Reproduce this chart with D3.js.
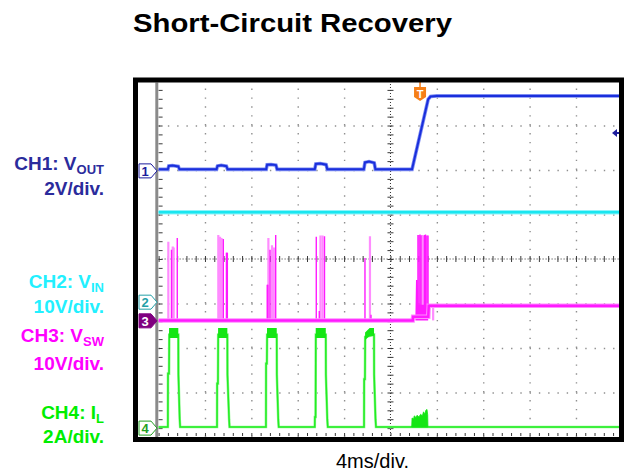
<!DOCTYPE html>
<meta charset="utf-8">
<style>
body {
  margin: 0;
  background: #fff;
  font-family: 'Liberation Sans', Arial, sans-serif;
}
svg { display: block; }
.grid .domain, .ticks .domain { display: none; }
.grid line { stroke: #8f8f8f; stroke-width: 1.4; }
.ticks line { stroke: #3a3a3a; stroke-width: 1; }
</style>
<svg width="624" height="472"></svg>
<script src="https://d3js.org/d3.v7.min.js"></script>
<script>
// labels
var title = "Short-Circuit Recovery";
var timeLabel = "4ms/div.";
var chMain = ["CH1: V", "CH2: V", "CH3: V", "CH4: I"];
var chSub = ["OUT", "IN", "SW", "L"];
var chScale = ["2V/div.", "10V/div.", "10V/div.", "2A/div."];

// scope settings: 4 ms/div over 10 div (ms from left edge), units per div and ground marker offset (div)
var timeTicks = [0, 4, 8, 12, 16, 20, 24, 28, 32, 36, 40];
var divTicks = [-4, -3, -2, -1, 0, 1, 2, 3, 4];
var perDiv = [2, 10, 10, 2];
var offsetDiv = [1.98, -0.97, -1.39, -3.80];
var triggerTime = 22.55;
var triggerLevel = 1.7; // CH1, volts

// CH1 VOUT [ms, V]
var ch1 = [[0, 0.07], [0.80, 0.07], [0.88, 0.22], [1.20, 0.24], [1.70, 0.20], [1.80, 0.07],
  [5.00, 0.07], [5.08, 0.22], [5.40, 0.25], [5.85, 0.21], [5.95, 0.07],
  [9.28, 0.07], [9.36, 0.28], [9.70, 0.29], [10.12, 0.26], [10.22, 0.07],
  [13.47, 0.07], [13.56, 0.31], [13.95, 0.33], [14.45, 0.28], [14.55, 0.07],
  [17.70, 0.07], [17.80, 0.38], [18.15, 0.42], [18.60, 0.36], [18.70, 0.07],
  [21.86, 0.07], [23.25, 3.22], [23.45, 3.34], [24.0, 3.37], [40, 3.37]];

// CH2 VIN [ms, V]
var ch2 = [[0, 20.2], [40, 20.2]];

// CH3 VSW trace [ms, V]
var ch3 = [[0, 0.1], [21.92, 0.1], [21.95, 0.92], [23.26, 0.92], [23.30, 3.37], [40, 3.37]];
// CH3 switching spikes [ms, low V, high V]
var ch3Spikes = [[1.11, 0.1, 16.0], [1.61, 0.1, 18.6],
  [5.58, 0.1, 18.4], [5.85, 0.1, 15.3], [5.89, 0.1, 15.3], [5.93, 0.1, 15.3],
  [9.37, 0.1, 8.1], [9.42, 0.1, 8.1], [9.61, 0.1, 16.0], [10.10, 0.1, 19.3],
  [13.60, 0.1, 18.9], [13.86, 0.1, 2.2], [14.31, 0.1, 19.0],
  [17.80, 0.1, 14.1], [18.32, 0.1, 1.35],
  [22.37, 0.9, 19.3], [22.46, 0.9, 19.3], [22.55, 0.9, 19.4], [22.63, 0.9, 19.2],
  [22.93, 3.3, 19.3], [23.02, 3.3, 19.4], [23.15, 3.3, 19.2], [23.24, 3.3, 19.2]];
var ch3Faint = [[0.84, 0.1, 17.8], [1.22, 0.1, 16.7], [1.30, 0.1, 16.5],
  [5.15, 0.1, 19.3], [5.30, 0.1, 18.9], [5.43, 0.1, 18.6],
  [9.47, 0.1, 18.6], [9.78, 0.1, 17.0], [9.94, 0.1, 16.5],
  [13.96, 0.1, 19.2], [14.14, 0.1, 19.2],
  [18.23, 0.1, 19.0],
  [22.72, 0.9, 19.3], [22.81, 0.9, 19.2], [23.09, 3.3, 19.1],
  [23.68, 0.1, 3.37]];
// CH3 burst during restart [ms, low V, high V]
var ch3Burst = [[22.15, 0.1, 0.95], [22.20, 0.1, 9.2], [22.35, 0.1, 9.2], [22.40, 0.1, 3.6],
  [23.25, 0.1, 3.6], [23.30, 3.2, 3.6]];

// CH4 IL [ms, A]
var ch4 = [[0, 0.05],
  [0.80, 0.05], [0.81, 2.45], [0.90, 2.45], [0.92, 4.2], [1.70, 4.2], [1.71, 2.4], [1.82, 0.4], [1.86, 0.05],
  [5.04, 0.05], [5.05, 2.0], [5.12, 2.0], [5.14, 4.2], [5.93, 4.2], [5.94, 2.4], [6.08, 0.4], [6.12, 0.05],
  [9.26, 0.05], [9.27, 2.9], [9.34, 2.9], [9.36, 4.2], [10.19, 4.2], [10.20, 2.4], [10.32, 0.4], [10.36, 0.05],
  [13.47, 0.05], [13.48, 0.5], [13.54, 0.5], [13.56, 4.2], [14.42, 4.2], [14.43, 2.4], [14.55, 0.4], [14.59, 0.05],
  [17.72, 0.05], [17.73, 2.2], [17.80, 2.2], [17.82, 4.1], [18.58, 4.2], [18.59, 2.4], [18.71, 0.4], [18.75, 0.05],
  [40, 0.05]];
// CH4 ripple band on the current pulses [ms, low A, high A]
var ch4Bands = [
  [[0.90, 4.05, 4.50], [1.70, 4.05, 4.50]],
  [[5.13, 4.05, 4.50], [5.93, 4.05, 4.50]],
  [[9.35, 4.05, 4.50], [10.19, 4.05, 4.50]],
  [[13.55, 4.05, 4.50], [14.42, 4.05, 4.50]],
  [[17.81, 3.95, 4.30], [18.20, 4.15, 4.50], [18.58, 4.15, 4.50]]];
// CH4 small current during restart [ms, low A, high A]
var ch4Bump = [[21.83, 0.05, 0.05], [21.86, 0.05, 0.45], [22.00, 0.05, 0.42], [22.05, 0.05, 0.55],
  [22.20, 0.05, 0.48], [22.30, 0.05, 0.58], [22.45, 0.05, 0.50], [22.60, 0.05, 0.62],
  [22.75, 0.05, 0.55], [22.85, 0.05, 0.73], [22.95, 0.05, 0.62], [23.05, 0.05, 0.80],
  [23.15, 0.05, 0.84], [23.21, 0.05, 0.60], [23.23, 0.05, 0.05]];

var traceColor = ["#1a2fdc", "#1ae6f0", "#ff1aff", "#22ee22"];
var haloColor = ["#7d8cf2", "#8ff4fa", "#ff8cff", "#90f590"];
var labelColor = ["#2b2b9c", "#22f0ff", "#ff00ff", "#00ee00"];

var svg = d3.select("svg"),
    gLeft = 158.6, gRight = 622.35, gTop = 81, gBottom = 437;

var x = d3.scaleLinear().domain([0, 40]).range([gLeft, gRight]);
var yDiv = d3.scaleLinear().domain([-4, 4]).range([gBottom, gTop]);
var yCh = perDiv.map(function(p, i) {
  return d3.scaleLinear()
    .domain([(-4 - offsetDiv[i]) * p, (4 - offsetDiv[i]) * p])
    .range([gBottom, gTop]);
});

svg.append("defs").append("clipPath").attr("id", "screen")
  .append("rect").attr("x", 138).attr("y", 82.5).attr("width", 481).attr("height", 354.5);

var screen = svg.append("g").attr("clip-path", "url(#screen)");

// graticule
var vgrid = screen.append("g").attr("class", "grid")
    .attr("transform", "translate(0," + gBottom + ")")
    .call(d3.axisBottom(x).tickValues(timeTicks.filter(function(d) { return d > 0 && d != 20; }))
      .tickSize(-(gBottom - gTop)).tickFormat(""));
vgrid.selectAll("line").attr("stroke-dasharray", "1.4 " + (yDiv(0) - yDiv(0.2) - 1.4));

var hgrid = screen.append("g").attr("class", "grid")
    .attr("transform", "translate(" + gLeft + ",0)")
    .call(d3.axisLeft(yDiv).tickValues(divTicks.filter(function(d) { return d != 0 && d != -4; }))
      .tickSize(-(gRight - gLeft)).tickFormat(""));
hgrid.selectAll("line").attr("stroke-dasharray", "1.4 " + (x(0.8) - x(0) - 1.4));

var minorY = d3.range(-4, 4.001, 0.2), minorX = d3.range(0, 40.001, 0.8);

// centre lines with minor ticks
screen.append("line")
    .attr("x1", x(20)).attr("x2", x(20)).attr("y1", gTop).attr("y2", gBottom)
    .attr("stroke", "#333").attr("stroke-dasharray", "1 2");
screen.append("line")
    .attr("x1", gLeft).attr("x2", gRight).attr("y1", yDiv(0)).attr("y2", yDiv(0))
    .attr("stroke", "#333").attr("stroke-dasharray", "1 2");
[d3.axisLeft, d3.axisRight].forEach(function(ax) {
  screen.append("g").attr("class", "ticks")
      .attr("transform", "translate(" + x(20) + ",0)")
      .call(ax(yDiv).tickValues(minorY).tickSize(3).tickFormat(""));
});
[d3.axisTop, d3.axisBottom].forEach(function(ax) {
  screen.append("g").attr("class", "ticks")
      .attr("transform", "translate(0," + yDiv(0) + ")")
      .call(ax(x).tickValues(minorX).tickSize(3).tickFormat(""));
});

// left edge and bottom edge
screen.append("line")
    .attr("x1", gLeft - 1.8).attr("x2", gLeft - 1.8).attr("y1", gTop).attr("y2", gBottom)
    .attr("stroke", "#8a8a8a").attr("stroke-width", 3);
screen.append("g").attr("class", "ticks")
    .attr("transform", "translate(" + gLeft + ",0)")
    .call(d3.axisRight(yDiv).tickValues(minorY).tickSize(4).tickFormat(""));
screen.append("g").attr("class", "ticks")
    .attr("transform", "translate(0," + (gBottom - 1) + ")")
    .call(d3.axisTop(x).tickValues(minorX).tickSize(3).tickFormat(""));

// traces
function line(i) {
  return d3.line().x(function(d) { return x(d[0]); }).y(function(d) { return yCh[i](d[1]); });
}
function band(i) {
  return d3.area().x(function(d) { return x(d[0]); })
    .y0(function(d) { return yCh[i](d[1]); }).y1(function(d) { return yCh[i](d[2]); });
}

var traces = screen.append("g").attr("fill", "none");

// CH2
traces.append("path").attr("d", line(1)(ch2)).attr("stroke", haloColor[1]).attr("stroke-width", 4.5);
traces.append("path").attr("d", line(1)(ch2)).attr("stroke", traceColor[1]).attr("stroke-width", 2.5);

// CH4
traces.append("path").attr("d", line(3)(ch4)).attr("stroke", haloColor[3]).attr("stroke-width", 2.6);
traces.append("path").attr("d", line(3)(ch4)).attr("stroke", traceColor[3]).attr("stroke-width", 1.5);
traces.selectAll(".band4").data(ch4Bands).enter().append("path")
    .attr("d", band(3)).attr("fill", "#14e614");
traces.append("path").attr("d", band(3)(ch4Bump)).attr("fill", "#14e614")
    .attr("stroke", "#14e614").attr("stroke-width", 0.8);

// CH3
traces.selectAll(".faint3").data(ch3Faint).enter().append("line")
    .attr("x1", function(d) { return x(d[0]); }).attr("x2", function(d) { return x(d[0]); })
    .attr("y1", function(d) { return yCh[2](d[1]); }).attr("y2", function(d) { return yCh[2](d[2]); })
    .attr("stroke", "#ff8cff").attr("stroke-width", 2.2);
traces.selectAll(".spike3").data(ch3Spikes).enter().append("line")
    .attr("x1", function(d) { return x(d[0]); }).attr("x2", function(d) { return x(d[0]); })
    .attr("y1", function(d) { return yCh[2](d[1]); }).attr("y2", function(d) { return yCh[2](d[2]); })
    .attr("stroke", traceColor[2]).attr("stroke-width", 1.4);
traces.append("path").attr("d", band(2)(ch3Burst)).attr("fill", traceColor[2]);
traces.append("path").attr("d", line(2)(ch3)).attr("stroke", haloColor[2]).attr("stroke-width", 4.5);
traces.append("path").attr("d", line(2)(ch3)).attr("stroke", traceColor[2]).attr("stroke-width", 2.5);

// CH1
traces.append("path").attr("d", line(0)(ch1)).attr("stroke", haloColor[0]).attr("stroke-width", 3.6);
traces.append("path").attr("d", line(0)(ch1)).attr("stroke", traceColor[0]).attr("stroke-width", 2);

// channel ground markers
var markerFill = ["#fff", "#fff", "#800080", "#fff"];
var markerLine = ["#1c1c9c", "#23a0a8", "#800080", "#23a023"];
var markerText = ["#1c1c9c", "#23a0a8", "#fff", "#23a023"];
var markers = svg.append("g").selectAll("g").data(perDiv).enter().append("g")
    .attr("transform", function(d, i) { return "translate(0," + yCh[i](0) + ")"; });
markers.append("path")
    .attr("d", "M139,-7H151L157,0L151,7H139Z")
    .attr("fill", function(d, i) { return markerFill[i]; })
    .attr("stroke", function(d, i) { return markerLine[i]; })
    .attr("stroke-width", 1);
markers.append("text")
    .attr("x", 145).attr("y", 5)
    .attr("text-anchor", "middle")
    .attr("font-size", 13).attr("font-weight", "bold")
    .attr("fill", function(d, i) { return markerText[i]; })
    .text(function(d, i) { return i + 1; });

// trigger position and level
var tx = x(triggerTime);
svg.append("line").attr("x1", tx).attr("x2", tx).attr("y1", 82).attr("y2", 88)
    .attr("stroke", "#f07818").attr("stroke-width", 1.5);
svg.append("path")
    .attr("d", "M" + (tx - 6) + ",87H" + (tx + 6) + "V97L" + tx + ",101L" + (tx - 6) + ",97Z")
    .attr("fill", "#f57f17");
svg.append("text").attr("x", tx).attr("y", 97.5).attr("text-anchor", "middle")
    .attr("font-size", 11).attr("font-weight", "bold").attr("fill", "#fff").text("T");
var ty = yCh[0](triggerLevel);
svg.append("path")
    .attr("d", "M612," + ty + "L617," + (ty - 4) + "V" + (ty - 1) + "H619V" + (ty + 1) + "H617V" + (ty + 4) + "Z")
    .attr("fill", "#1c1c9c");

// frame
svg.append("rect")
    .attr("x", 135.5).attr("y", 80).attr("width", 486).attr("height", 359.5)
    .attr("fill", "none").attr("stroke", "#000").attr("stroke-width", 5);

// titles and channel labels
svg.append("text")
    .attr("x", 133).attr("y", 32)
    .attr("font-size", 25).attr("font-weight", "bold")
    .attr("textLength", 319).attr("lengthAdjust", "spacingAndGlyphs")
    .text(title);

svg.append("text")
    .attr("x", 372.5).attr("y", 468)
    .attr("text-anchor", "middle").attr("font-size", 20)
    .text(timeLabel);

var labelY = [170, 288, 342, 419];
var scaleY = [195, 313, 370, 443];
var labels = svg.append("g")
    .attr("font-weight", "bold").attr("text-anchor", "end").attr("font-size", 19)
  .selectAll("g").data(chMain).enter().append("g")
    .attr("fill", function(d, i) { return labelColor[i]; });
var head = labels.append("text")
    .attr("x", 104).attr("y", function(d, i) { return labelY[i]; });
head.append("tspan").text(function(d) { return d; });
head.append("tspan").attr("dy", 4).attr("font-size", 13).text(function(d, i) { return chSub[i]; });
labels.append("text")
    .attr("x", 104).attr("y", function(d, i) { return scaleY[i]; })
    .text(function(d, i) { return chScale[i]; });
</script>
